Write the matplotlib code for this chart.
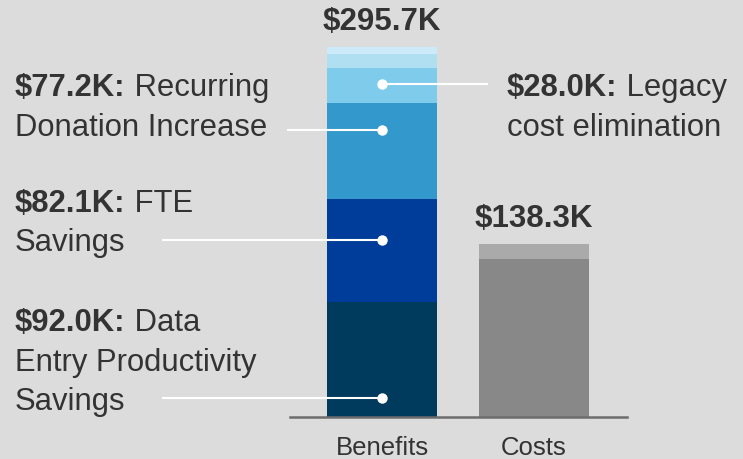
import matplotlib
matplotlib.use("Agg")
import matplotlib.pyplot as plt

# values in $K
categories = ["Benefits", "Costs"]
benefit_values = [92.0, 82.1, 77.2, 28.0, 11.0, 5.4]
benefit_colors = ["#003a5c", "#003c9a", "#3399cc", "#7fcbeb", "#b1dff2", "#cdeaf8"]
cost_values = [126.3, 12.0]
cost_colors = ["#888888", "#aaaaaa"]
totals = ["$295.7K", "$138.3K"]

# callout labels for the first four benefit segments
ann_bold = ["$92.0K:", "$82.1K:", "$77.2K:", "$28.0K:"]
ann_lines = [[" Data", "Entry Productivity", "Savings"],
             [" FTE", "Savings"],
             [" Recurring", "Donation Increase"],
             [" Legacy", "cost elimination"]]
ann_frac = [0.165, 0.6, 0.72, 0.52]

BG = "#dcdcdc"
TXT = "#333333"
plt.rcParams["font.family"] = ["Liberation Sans", "DejaVu Sans"]

W, H = 743, 459
fig = plt.figure(figsize=(W / 100, H / 100), dpi=100, facecolor=BG)
ax = fig.add_axes([290 / W, 42 / H, 337 / W, 370 / H], facecolor=BG)

bw = 0.724
bottom = 0
for v, c in zip(benefit_values, benefit_colors):
    ax.bar(0, v, bw, bottom=bottom, color=c, linewidth=0)
    bottom += v
bottom = 0
for v, c in zip(cost_values, cost_colors):
    ax.bar(1, v, bw, bottom=bottom, color=c, linewidth=0)
    bottom += v

sums = [sum(benefit_values), sum(cost_values)]
for i, (s, t) in enumerate(zip(sums, totals)):
    ax.annotate(t, (i, s), xytext=(0, 12.2), textcoords="offset points", ha="center", va="baseline",
                fontsize=22.5, fontweight="bold", color=TXT, annotation_clip=False)
    ax.annotate(categories[i], (i, 0), xytext=(0, -27.4), textcoords="offset points", ha="center",
                va="baseline", fontsize=18.5, color=TXT, annotation_clip=False)

ax.set_xlim(-0.605, 1.612)
ax.set_ylim(0, sum(benefit_values))
ax.set_xticks([])
ax.set_yticks([])
for s in ["top", "left", "right"]:
    ax.spines[s].set_visible(False)
ax.spines["bottom"].set_color("#6d6d6d")
ax.spines["bottom"].set_linewidth(1.8)

# connector line start (px) and first-line baseline / left edge (px)
line_start_px = [162, 162, 287, 488]
text_pos_px = [(15, 331), (15, 212), (15, 96), (507, 96)]
line_gap = 39.5
fs = 22.3

fig.canvas.draw()
cum = 0
for k in range(4):
    v = benefit_values[k]
    y = cum + v * ann_frac[k]
    cum += v
    xs = (line_start_px[k] - 382) / 152
    ax.plot([xs, 0], [y, y], color="white", lw=1.5, clip_on=False, zorder=3, solid_capstyle="butt")
    ax.plot(0, y, "o", color="white", ms=7.5, mew=0, clip_on=False, zorder=4)
    tx, ty = text_pos_px[k]
    first = fig.text(tx / W, 1 - ty / H, ann_bold[k], fontsize=fs, fontweight="bold", color=TXT,
                     ha="left", va="baseline")
    bb = first.get_window_extent(renderer=fig.canvas.get_renderer())
    fig.text(bb.x1 / W, 1 - ty / H, ann_lines[k][0], fontsize=fs, color=TXT, ha="left", va="baseline")
    for j, line in enumerate(ann_lines[k][1:], start=1):
        fig.text(tx / W, 1 - (ty + j * line_gap) / H, line, fontsize=fs, color=TXT,
                 ha="left", va="baseline")

fig.savefig("out.png", dpi=100, facecolor=BG)
